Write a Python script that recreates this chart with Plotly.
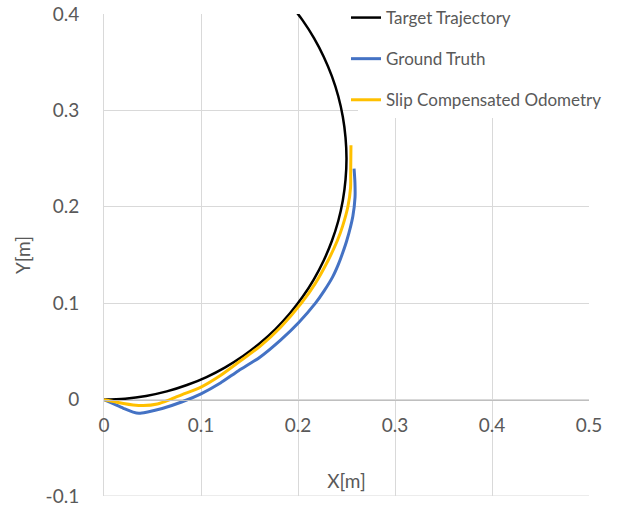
import plotly.graph_objects as go

# Target trajectory (circle arc)
target_x = [0.0, 0.0218, 0.0434, 0.0647, 0.0855, 0.1057, 0.125, 0.1434, 0.1607, 0.1768, 0.1915,
            0.2048, 0.2165, 0.2265, 0.2349, 0.2415, 0.2462, 0.2490, 0.25, 0.2490, 0.2462,
            0.2415, 0.2349, 0.2265, 0.2165, 0.2048, 0.1915]
target_y = [0.0, 0.0010, 0.0038, 0.0085, 0.0151, 0.0234, 0.0335, 0.0452, 0.0585, 0.0732, 0.0893,
            0.1066, 0.125, 0.1443, 0.1645, 0.1853, 0.2066, 0.2282, 0.25, 0.2718, 0.2934,
            0.3147, 0.3355, 0.3557, 0.375, 0.3934, 0.4107]

# Ground truth
truth_x = [0.0, 0.010, 0.020, 0.030, 0.036, 0.045, 0.060, 0.080, 0.100, 0.120,
           0.1387, 0.1607, 0.1823, 0.2008, 0.2180, 0.2271, 0.2356, 0.2415, 0.2460, 0.2503,
           0.2565, 0.2588, 0.2587, 0.2578]
truth_y = [0.0, -0.0045, -0.009, -0.013, -0.0142, -0.0128, -0.0092, -0.0025, 0.006, 0.0172,
           0.030, 0.044, 0.062, 0.080, 0.100, 0.113, 0.127, 0.140, 0.152, 0.165,
           0.190, 0.210, 0.225, 0.2396]

# Slip compensated odometry
odo_x = [0.0, 0.010, 0.020, 0.030, 0.0405, 0.055, 0.068, 0.080, 0.100, 0.120, 0.1386,
         0.1605, 0.1821, 0.2035, 0.2175, 0.2310, 0.2406, 0.2460, 0.2514, 0.2542, 0.2543, 0.2546]
odo_y = [0.0, -0.002, -0.004, -0.0055, -0.0062, -0.0045, 0.0, 0.005, 0.013, 0.025, 0.0387,
         0.055, 0.0751, 0.100, 0.120, 0.1443, 0.165, 0.180, 0.200, 0.220, 0.2344, 0.2638]

x_ticks = [0, 0.1, 0.2, 0.3, 0.4, 0.5]
x_tick_labels = ["0", "0.1", "0.2", "0.3", "0.4", "0.5"]
y_ticks = [-0.1, 0, 0.1, 0.2, 0.3, 0.4]
y_tick_labels = ["-0.1", "0", "0.1", "0.2", "0.3", "0.4"]

FONT = "Lato"
TXT = "#595959"
GRID = "#D9D9D9"

fig = go.Figure()
fig.add_trace(go.Scatter(x=target_x, y=target_y, mode="lines", name="Target Trajectory",
                         line=dict(color="#000000", width=2.5, shape="spline"),
                         legendgroup="a"))
fig.add_trace(go.Scatter(x=truth_x, y=truth_y, mode="lines", name="Ground Truth",
                         line=dict(color="#4472C4", width=3, shape="spline", smoothing=0.8),
                         legendgroup="b"))
fig.add_trace(go.Scatter(x=odo_x, y=odo_y, mode="lines", name="Slip Compensated Odometry",
                         line=dict(color="#FFC000", width=3, shape="spline", smoothing=0.8),
                         legendgroup="c"))

# bottom gridline (at the edge of the plot) and white backing behind the legend
fig.add_shape(type="line", xref="paper", x0=0, x1=1, yref="y", y0=y_ticks[0], y1=y_ticks[0],
              line=dict(color=GRID, width=1), layer="below")
fig.add_shape(type="rect", xref="paper", yref="paper", x0=0.5237, x1=1.2, y0=0.784, y1=1.2,
              fillcolor="white", line=dict(width=0), layer="above")

fig.update_layout(
    width=622, height=506,
    margin=dict(l=104, r=33, t=14, b=10, autoexpand=False),
    paper_bgcolor="white", plot_bgcolor="white",
    font=dict(family=FONT, color=TXT, size=19),
    showlegend=True,
    legend=dict(x=0.499, y=1.029, xanchor="left", yanchor="top",
                bgcolor="rgba(0,0,0,0)", font=dict(size=17, color=TXT),
                tracegroupgap=16, traceorder="grouped"),
    xaxis=dict(range=[0, 0.5], tickvals=x_ticks, ticktext=x_tick_labels,
               anchor="free", position=0.2,
               showgrid=True, gridcolor=GRID, gridwidth=1,
               showline=True, linecolor="#BFBFBF", linewidth=1,
               zeroline=False, ticks="", ticklabelstandoff=9,
               title=dict(text="X[m]", standoff=39, font=dict(size=19, color=TXT)),
               automargin=False),
    yaxis=dict(range=[-0.1, 0.4], tickvals=y_ticks, ticktext=y_tick_labels,
               showgrid=True, gridcolor=GRID, gridwidth=1,
               showline=True, linecolor=GRID, linewidth=1,
               zeroline=False, ticks="", ticklabelstandoff=20,
               ticklabeloverflow="allow",
               title=dict(text="Y[m]", standoff=9, font=dict(size=19, color=TXT)),
               automargin=False),
)

fig.write_html("out.html")
